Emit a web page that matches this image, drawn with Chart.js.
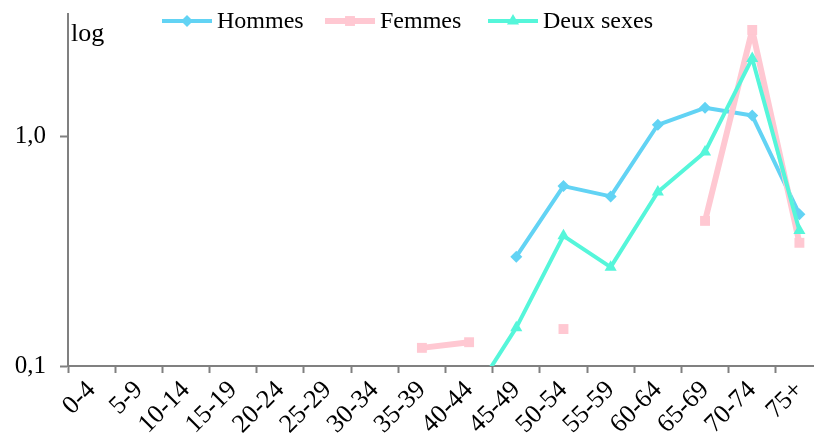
<!DOCTYPE html>
<html>
<head>
<meta charset="utf-8">
<script src="https://cdn.jsdelivr.net/npm/chart.js@4"></script>
<style>
  html, body { margin: 0; padding: 0; background: #fff; overflow: hidden; }
  #wrap { width: 830px; height: 439px; }
</style>
</head>
<body>
<div id="wrap"><canvas id="logChart" width="830" height="439"></canvas></div>
<script>
// Données
const categories = ['0-4', '5-9', '10-14', '15-19', '20-24', '25-29', '30-34', '35-39',
  '40-44', '45-49', '50-54', '55-59', '60-64', '65-69', '70-74', '75+'];
const hommes = [null, null, null, null, null, null, null, null, null, 0.30, 0.61, 0.55, 1.13, 1.34, 1.24, 0.46];
const femmes = [null, null, null, null, null, null, null, 0.12, 0.127, null, 0.145, null, null, 0.43, 2.93, 0.345];
const deuxSexes = [null, null, null, null, null, null, null, null, 0.07, 0.147, 0.37, 0.27, 0.575, 0.86, 2.2, 0.39];
const yTicks = [0.1, 1];

const FONT = "'Liberation Serif', 'Times New Roman', serif";
const AXIS = '#808080';

// Légende dessinée à la main (ligne + marqueur), et le mot "log"
const overlay = {
  id: 'overlay',
  afterDraw(chart) {
    const ctx = chart.ctx;
    ctx.save();
    ctx.font = '26px ' + FONT;
    ctx.fillStyle = '#000';
    ctx.textBaseline = 'alphabetic';
    ctx.fillText('log', 71, 41);

    ctx.font = '24px ' + FONT;
    const starts = [162, 325, 488];
    const y = 21;
    chart.data.datasets.forEach((ds, i) => {
      const x0 = starts[i];
      ctx.strokeStyle = ds.borderColor;
      ctx.lineWidth = ds.borderWidth;
      ctx.beginPath();
      ctx.moveTo(x0, y);
      ctx.lineTo(x0 + 50, y);
      ctx.stroke();
      ctx.fillStyle = ds.borderColor;
      Chart.helpers.drawPoint(ctx, {
        pointStyle: ds.pointStyle, radius: ds.pointRadius, borderWidth: 0
      }, x0 + 25, y);
      ctx.fillStyle = '#000';
      ctx.textBaseline = 'middle';
      ctx.fillText(ds.label, x0 + 55, y + 1);
    });
    ctx.restore();
  }
};

new Chart(document.getElementById('logChart'), {
  type: 'line',
  data: {
    labels: categories,
    datasets: [
      {
        label: 'Hommes',
        data: hommes,
        order: 2,
        borderColor: '#62D3F4',
        backgroundColor: '#62D3F4',
        borderWidth: 4,
        borderJoinStyle: 'round',
        pointStyle: 'rectRot',
        pointRadius: 6,
        pointBorderWidth: 0
      },
      {
        label: 'Femmes',
        data: femmes,
        order: 1,
        borderColor: '#FFC8D2',
        backgroundColor: '#FFC8D2',
        borderWidth: 6,
        borderJoinStyle: 'round',
        pointStyle: 'rect',
        pointRadius: 7,
        pointBorderWidth: 0
      },
      {
        label: 'Deux sexes',
        data: deuxSexes,
        order: 0,
        borderColor: '#55F6DA',
        backgroundColor: '#55F6DA',
        borderWidth: 4,
        borderJoinStyle: 'round',
        pointStyle: 'triangle',
        pointRadius: 7,
        pointBorderWidth: 0
      }
    ]
  },
  options: {
    responsive: false,
    animation: false,
    layout: { padding: { top: 14, right: 7, left: 0, bottom: 0 } },
    plugins: {
      legend: { display: false },
      tooltip: { enabled: false }
    },
    scales: {
      x: {
        offset: true,
        grid: { offset: true, drawOnChartArea: false, color: AXIS, tickLength: 7, tickWidth: 2 },
        border: { color: AXIS, width: 2 },
        ticks: {
          autoSkip: false, maxRotation: 45, minRotation: 45, padding: 2,
          color: '#000', font: { family: FONT, size: 26 }
        },
        afterFit(s) { s.height = 73; s.paddingLeft = 0; s.paddingRight = 0; }
      },
      y: {
        type: 'logarithmic',
        min: 0.1,
        max: 3.44,
        grid: { drawOnChartArea: false, color: AXIS, tickLength: 8, tickWidth: 2 },
        border: { color: AXIS, width: 2 },
        afterBuildTicks(s) { s.ticks = yTicks.map(v => ({ value: v })); },
        ticks: {
          padding: 14,
          color: '#000',
          font: { family: FONT, size: 25 },
          callback: v => v.toFixed(1).replace('.', ',')
        },
        afterFit(s) { s.width = 68; s.paddingTop = 0; s.paddingBottom = 0; }
      }
    }
  },
  plugins: [overlay]
});
</script>
</body>
</html>
